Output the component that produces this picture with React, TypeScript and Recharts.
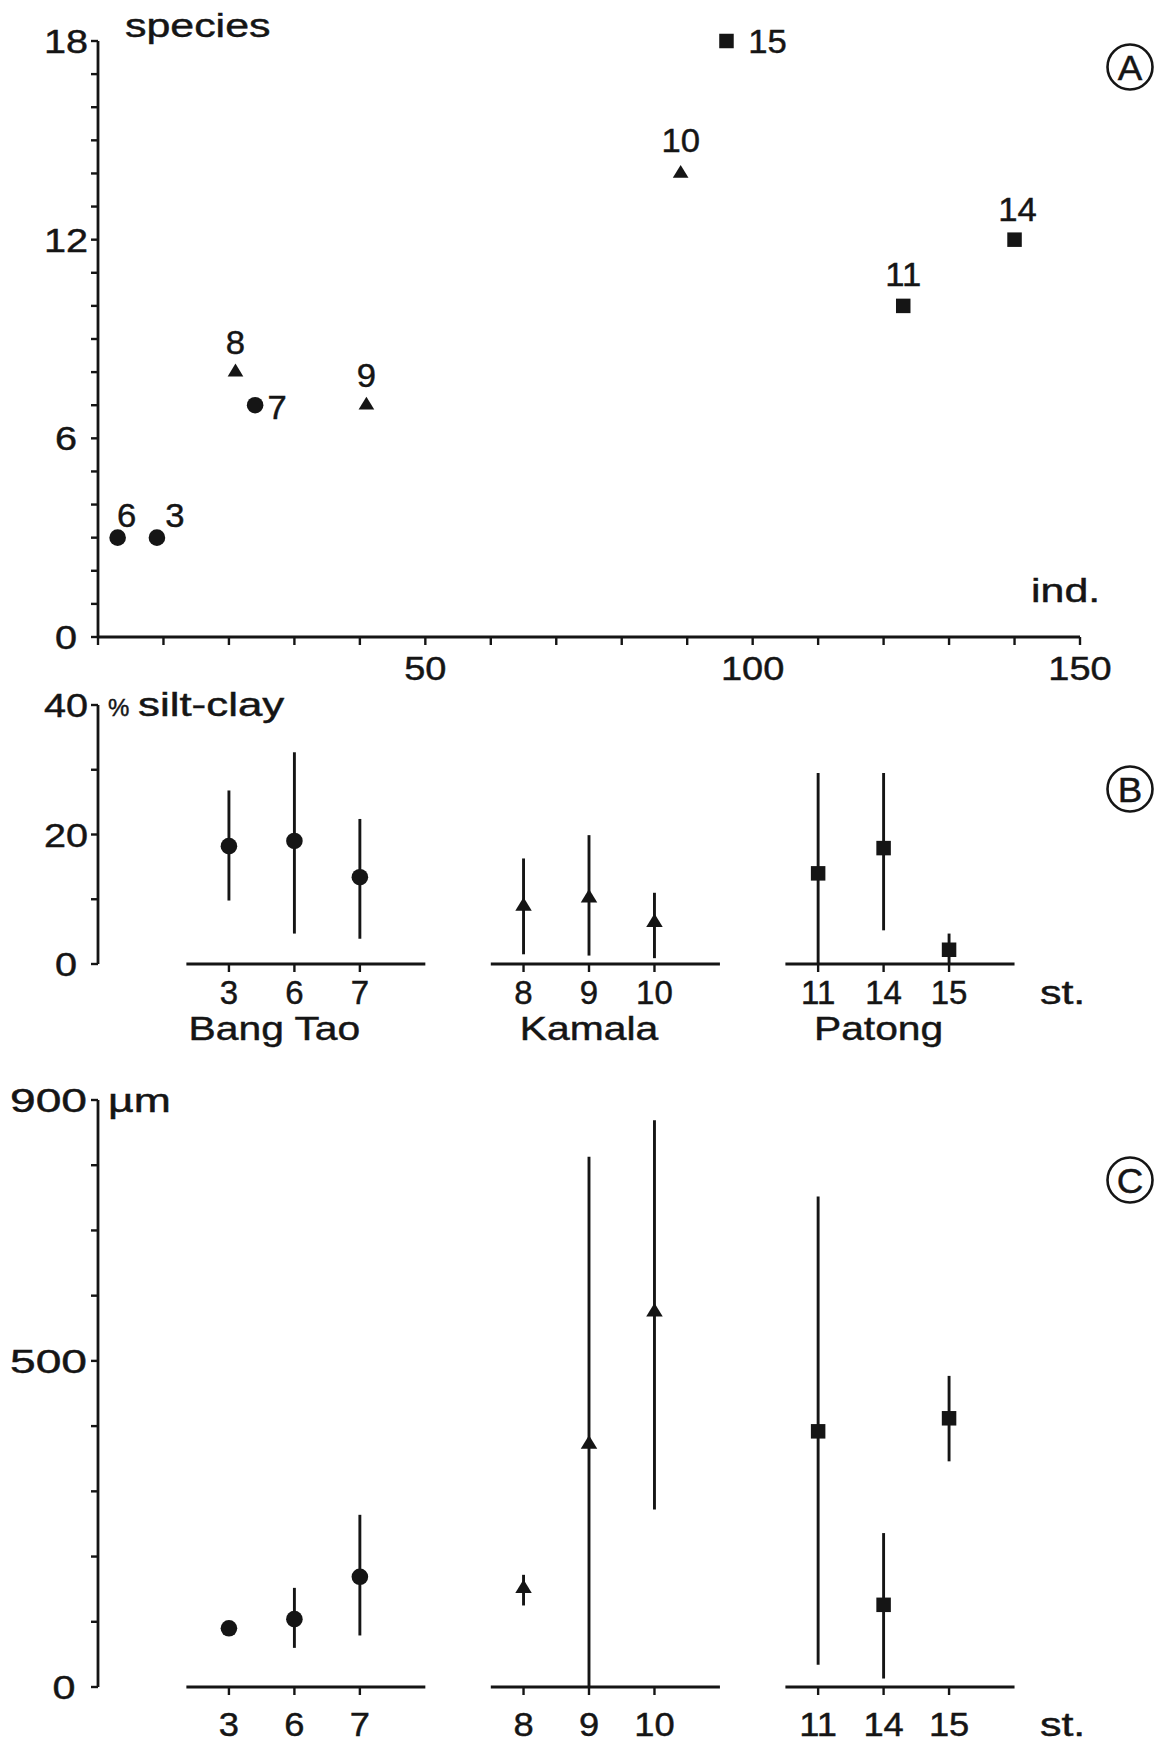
import React from 'react';
import { ScatterChart, Scatter, XAxis, YAxis, ErrorBar, ReferenceLine } from 'recharts';

// ---------------- data ----------------
const STATIONS = ['3', '6', '7', '8', '9', '10', '11', '14', '15'];
const BEACH_INDEX = [0, 0, 0, 1, 1, 1, 2, 2, 2];
const BEACHES = ['Bang Tao', 'Kamala', 'Patong'];

// Panel A: individuals vs species
const A_IND = [9, 3, 24, 21, 41, 89, 123, 140, 96];
const A_SPECIES = [3, 3, 7, 8, 7, 14, 10, 12, 18];

// Panel B: % silt-clay (mean, min, max)
const SILT_MEAN = [18.2, 19.0, 13.4, 8.9, 10.2, 6.4, 14.0, 17.9, 2.2];
const SILT_LOW = [9.8, 4.7, 3.9, 1.5, 1.3, 0.9, 0, 5.2, 0];
const SILT_HIGH = [26.8, 32.7, 22.4, 16.3, 19.9, 11.0, 29.5, 29.5, 4.7];

// Panel C: grain size in µm (mean, min, max)
const GRAIN_MEAN = [90, 104, 169, 151, 372, 575, 392, 126, 412];
const GRAIN_LOW = [80, 60, 79, 125, 0, 272, 34, 13, 346];
const GRAIN_HIGH = [100, 152, 264, 172, 813, 869, 752, 236, 477];

// tick values
const A_X_TICKS = [0, 10, 20, 30, 40, 50, 60, 70, 80, 90, 100, 110, 120, 130, 140, 150];
const A_X_LABELS = [50, 100, 150];
const A_Y_TICKS = [0, 1, 2, 3, 4, 5, 6, 7, 8, 9, 10, 11, 12, 13, 14, 15, 16, 17, 18];
const A_Y_LABELS = [0, 6, 12, 18];
const B_Y_TICKS = [0, 10, 20, 30, 40];
const B_Y_LABELS = [0, 20, 40];
const C_Y_TICKS = [0, 100, 200, 300, 400, 500, 600, 700, 800, 900];
const C_Y_LABELS = [0, 500, 900];

// ---------------- layout (not data) ----------------
const INK = '#151515';
const FONT = '"Liberation Sans", Arial, Helvetica, sans-serif';
const W = 1160;
const BEACH_START = [2, 6.5, 11];
const BEACH_SEGMENT = [[1.35, 5.0], [6.0, 9.5], [10.5, 14.0]];
const BEACH_LABEL_DX = [-20, 0, -5];
const SLOT = STATIONS.map((_, i) => BEACH_START[BEACH_INDEX[i]] + (i % 3));
const A_LABEL_OFFSET: Record<string, [number, number]> = {
  '6': [9, -23], '3': [18, -23], '8': [0, -30], '7': [22, 2], '9': [0, -30],
  '10': [0, -33], '15': [41, 0], '11': [0, -32], '14': [3, -31],
};

// ---------------- helpers ----------------
function T({ x, y, anchor = 'middle', size = 33, sx = 1.2, children, spacing = 0 }: any) {
  return (
    <text
      transform={`translate(${x},${y}) scale(${sx},1)`}
      textAnchor={anchor}
      fontFamily={FONT}
      fontSize={size}
      fill={INK}
      stroke={INK}
      strokeWidth={0.45}
      letterSpacing={spacing}
    >
      {children}
    </text>
  );
}

function marker(kind: number, cx: number, cy: number, big = 1) {
  if (kind === 0) return <circle cx={cx} cy={cy} r={8.3 * big} fill={INK} />;
  if (kind === 1) {
    const b = 16.5 * big, h = 13.5 * big;
    return (
      <polygon
        points={`${cx},${cy - (2 * h) / 3} ${cx - b / 2},${cy + h / 3} ${cx + b / 2},${cy + h / 3}`}
        fill={INK}
      />
    );
  }
  const s = 14.5 * big;
  return <rect x={cx - s / 2} y={cy - s / 2} width={s} height={s} fill={INK} />;
}

const yTick = (labels: number[], mode: 'center' | 'end') => (p: any) => {
  const v = p.payload.value;
  if (!labels.includes(v)) return <g />;
  const base = p.y + 12;
  if (mode === 'center' || v === 0) {
    return <T x={mode === 'center' ? 66 : 64} y={base} anchor="middle" sx={mode === 'center' ? 1.2 : 1.25}>{String(v)}</T>;
  }
  return <T x={87} y={base} anchor="end" sx={1.4}>{String(v)}</T>;
};

const aXTick = (p: any) => {
  const v = p.payload.value;
  if (!A_X_LABELS.includes(v)) return <g />;
  return <T x={p.x} y={p.y + 23} sx={1.15}>{String(v)}</T>;
};

const stationTick = (withBeach: boolean, sx: number) => (p: any) => {
  const idx = SLOT.findIndex((s) => Math.abs(s - p.payload.value) < 1e-6);
  if (idx < 0) return <g />;
  const b = BEACH_INDEX[idx];
  return (
    <g>
      <T x={p.x} y={p.y + 23} sx={sx}>{STATIONS[idx]}</T>
      {withBeach && idx % 3 === 1 ? (
        <T x={p.x + BEACH_LABEL_DX[b]} y={p.y + 59} size={34} sx={1.2}>{BEACHES[b]}</T>
      ) : null}
    </g>
  );
};

// ---------------- tables ----------------
const aData = STATIONS.map((s, i) => ({ name: s, x: A_IND[i], y: A_SPECIES[i], beach: BEACH_INDEX[i] }));
const rangeTable = (mean: number[], low: number[], high: number[]) =>
  STATIONS.map((s, i) => ({
    name: s,
    x: SLOT[i],
    y: mean[i],
    err: [mean[i] - low[i], high[i] - mean[i]],
    beach: BEACH_INDEX[i],
  }));
const bData = rangeTable(SILT_MEAN, SILT_LOW, SILT_HIGH);
const cData = rangeTable(GRAIN_MEAN, GRAIN_LOW, GRAIN_HIGH);

const axisStroke = { stroke: INK, strokeWidth: 2.8 };
const tickStroke = { stroke: INK, strokeWidth: 2.4 };

function PanelA() {
  return (
    <ScatterChart width={W} height={700} margin={{ top: 41, right: 80, bottom: 13, left: 38 }}>
      <XAxis
        type="number" dataKey="x" domain={[0, 150]} ticks={A_X_TICKS} interval={0}
        axisLine={axisStroke} tickLine={tickStroke} tickSize={8} tickMargin={12}
        height={50} tick={aXTick}
      />
      <YAxis
        type="number" dataKey="y" domain={[0, 18]} ticks={A_Y_TICKS} interval={0}
        axisLine={axisStroke} tickLine={tickStroke} tickSize={7} tickMargin={4}
        width={60} tick={yTick(A_Y_LABELS, 'center')}
      />
      {[0, 1, 2].map((b) => (
        <Scatter
          key={b}
          data={aData.filter((d) => d.beach === b)}
          isAnimationActive={false}
          shape={(p: any) => {
            const off = A_LABEL_OFFSET[p.payload.name] || [0, -30];
            return (
              <g>
                {marker(b, p.cx, p.cy, b === 1 ? 0.95 : 1)}
                <T x={p.cx + off[0]} y={p.cy + off[1] + 12} sx={1.05}>{p.payload.name}</T>
              </g>
            );
          }}
        />
      ))}
    </ScatterChart>
  );
}

function RangePanel({ data, height, margin, domain, yTicks, yLabels, yMode, xAxisHeight, withBeach, stationSx }: any) {
  return (
    <ScatterChart width={W} height={height} margin={margin}>
      <XAxis
        type="number" dataKey="x" domain={[0, 15]} ticks={SLOT} interval={0}
        axisLine={false} tickLine={tickStroke} tickSize={8} tickMargin={withBeach ? 9 : 18}
        height={xAxisHeight} tick={stationTick(withBeach, stationSx)}
      />
      <YAxis
        type="number" dataKey="y" domain={domain} ticks={yTicks} interval={0}
        axisLine={axisStroke} tickLine={tickStroke} tickSize={7} tickMargin={4}
        width={60} tick={yTick(yLabels, yMode)}
      />
      {BEACH_SEGMENT.map((seg, i) => (
        <ReferenceLine
          key={i}
          segment={[{ x: seg[0], y: 0 }, { x: seg[1], y: 0 }]}
          stroke={INK}
          strokeWidth={3}
          ifOverflow="visible"
        />
      ))}
      {[0, 1, 2].map((b) => (
        <Scatter
          key={b}
          data={data.filter((d: any) => d.beach === b)}
          isAnimationActive={false}
          shape={(p: any) => marker(b, p.cx, p.cy)}
        >
          <ErrorBar dataKey="err" direction="y" width={0} stroke={INK} strokeWidth={2.9} />
        </Scatter>
      ))}
    </ScatterChart>
  );
}

function Circled({ cx, cy, letter }: any) {
  return (
    <g>
      <circle cx={cx} cy={cy} r={22.5} fill="none" stroke={INK} strokeWidth={2.6} />
      <T x={cx} y={cy + 12.5} size={35} sx={1.05}>{letter}</T>
    </g>
  );
}

export default function App() {
  return (
    <div style={{ position: 'absolute', left: 0, top: 0, width: W, height: 1754, background: '#fff', overflow: 'hidden' }}>
      <div style={{ position: 'absolute', left: 0, top: 0 }}>
        <PanelA />
      </div>
      <div style={{ position: 'absolute', left: 0, top: 680 }}>
        <RangePanel
          data={bData} height={380} margin={{ top: 25, right: 80, bottom: 6, left: 38 }}
          domain={[0, 40]} yTicks={B_Y_TICKS} yLabels={B_Y_LABELS} yMode="center"
          xAxisHeight={90} withBeach={true} stationSx={1.0}
        />
      </div>
      <div style={{ position: 'absolute', left: 0, top: 1060 }}>
        <RangePanel
          data={cData} height={694} margin={{ top: 40, right: 80, bottom: 7, left: 38 }}
          domain={[0, 900]} yTicks={C_Y_TICKS} yLabels={C_Y_LABELS} yMode="end"
          xAxisHeight={60} withBeach={false} stationSx={1.1}
        />
      </div>
      <svg width={W} height={1754} style={{ position: 'absolute', left: 0, top: 0, pointerEvents: 'none' }}>
        <T x={125} y={37} anchor="start" sx={1.3}>species</T>
        <T x={1031} y={602} anchor="start" sx={1.3}>ind.</T>
        <T x={108} y={716} anchor="start" size={24} sx={1.0}>%</T>
        <T x={138} y={716} anchor="start" sx={1.33}>silt-clay</T>
        <T x={108} y={1112} anchor="start" sx={1.35}>µm</T>
        <T x={1040} y={1004} anchor="start" sx={1.3}>st.</T>
        <T x={1040} y={1736} anchor="start" sx={1.3}>st.</T>
        <Circled cx={1130} cy={67} letter="A" />
        <Circled cx={1130} cy={789} letter="B" />
        <Circled cx={1130} cy={1180} letter="C" />
      </svg>
    </div>
  );
}
